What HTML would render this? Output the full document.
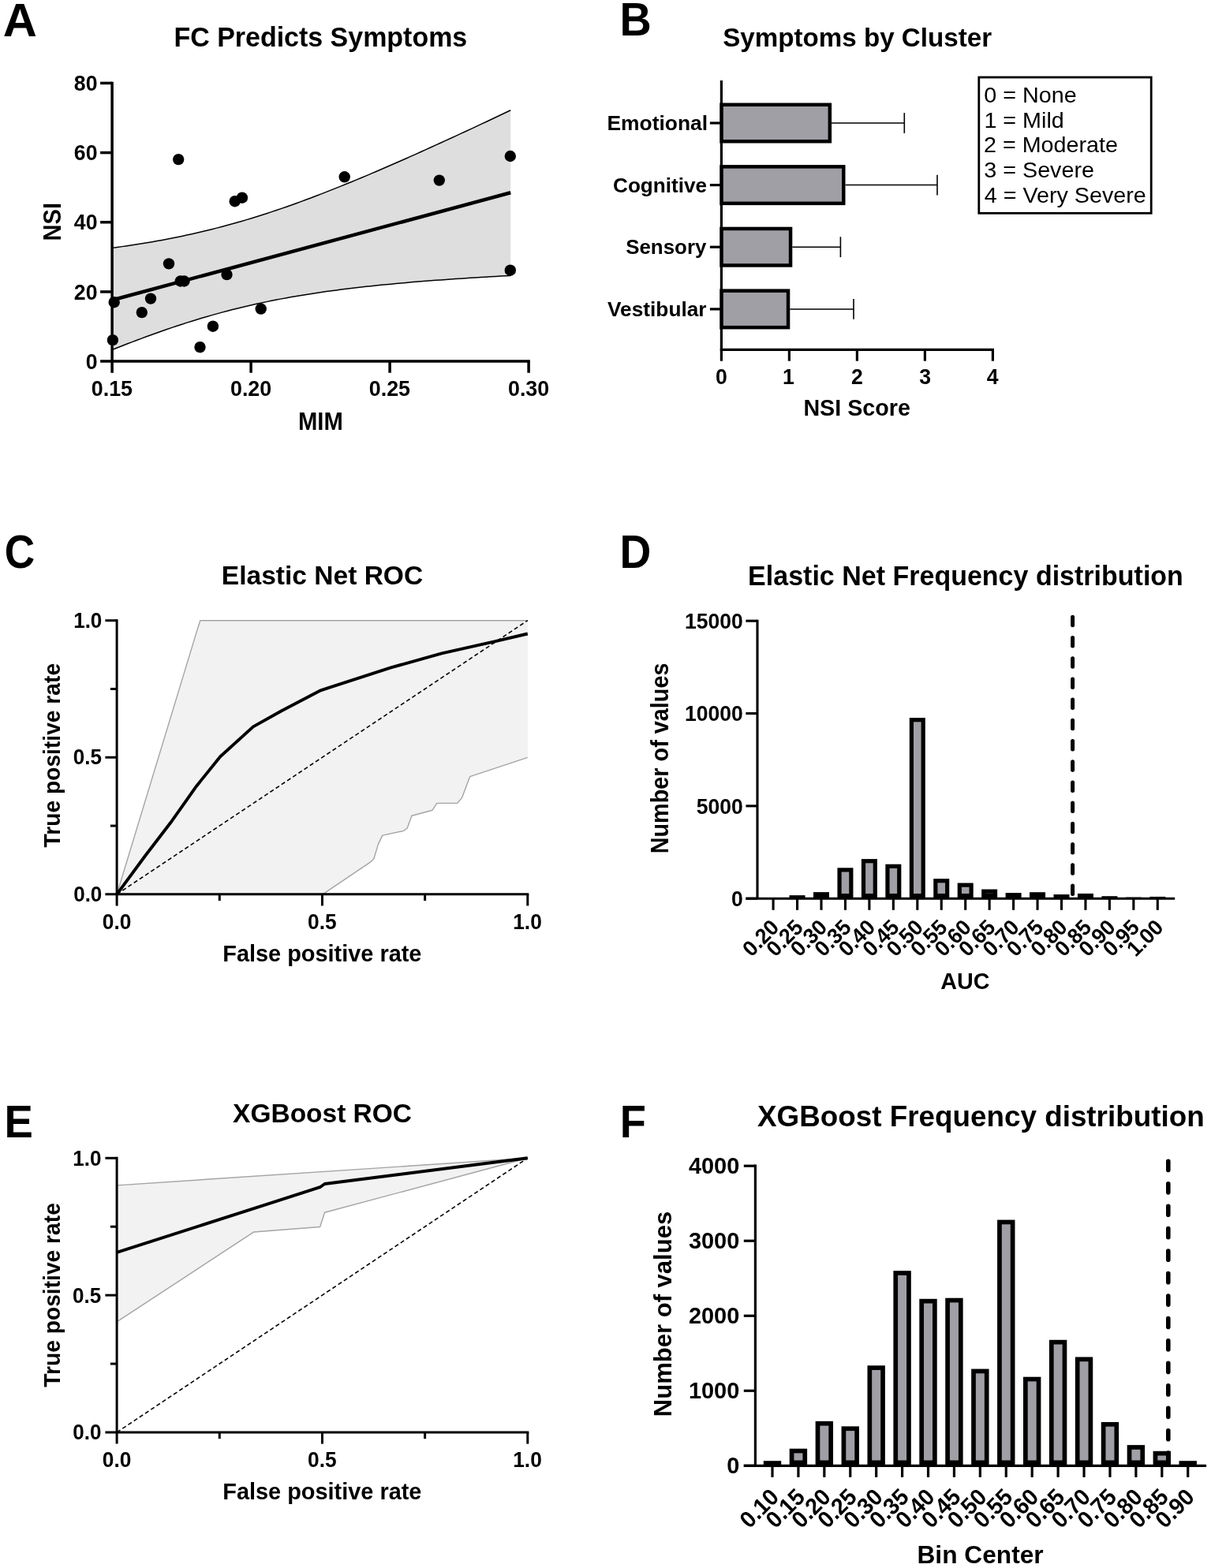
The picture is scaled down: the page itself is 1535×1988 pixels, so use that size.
<!DOCTYPE html>
<html><head><meta charset="utf-8"><title>Figure</title>
<style>
html,body{margin:0;padding:0;background:#fff;}
svg{display:block;}
text{font-family:"Liberation Sans", Arial, sans-serif;fill:#000;}
</style></head>
<body>
<svg width="1535" height="1988" viewBox="0 0 1535 1988">
<rect x="0" y="0" width="1535" height="1988" fill="#fff"/>
<text transform="translate(3.81,45.50) scale(1.0177,1)" font-size="58.72" font-weight="700">A</text>
<text transform="translate(785.47,45.30) scale(0.9527,1)" font-size="58.50" font-weight="700">B</text>
<text transform="translate(5.72,719.91) scale(0.9034,1)" font-size="58.90" font-weight="700">C</text>
<text transform="translate(785.51,719.80) scale(0.9437,1)" font-size="58.43" font-weight="700">D</text>
<text transform="translate(5.45,1441.90) scale(0.9429,1)" font-size="57.85" font-weight="700">E</text>
<text transform="translate(785.67,1441.90) scale(0.9376,1)" font-size="57.85" font-weight="700">F</text>
<text transform="translate(220.42,59.40) scale(0.9671,1)" font-size="35.14" font-weight="700">FC Predicts Symptoms</text>
<path d="M142.10,314.37 L148.41,313.51 L154.73,312.62 L161.04,311.71 L167.36,310.76 L173.67,309.78 L179.98,308.77 L186.30,307.73 L192.61,306.66 L198.93,305.54 L205.24,304.40 L211.55,303.21 L217.87,301.99 L224.18,300.73 L230.50,299.43 L236.81,298.08 L243.12,296.70 L249.44,295.27 L255.75,293.80 L262.07,292.29 L268.38,290.73 L274.69,289.13 L281.01,287.49 L287.32,285.80 L293.64,284.06 L299.95,282.29 L306.26,280.46 L312.58,278.60 L318.89,276.69 L325.21,274.74 L331.52,272.74 L337.83,270.71 L344.15,268.63 L350.46,266.51 L356.78,264.36 L363.09,262.17 L369.40,259.94 L375.72,257.67 L382.03,255.37 L388.35,253.04 L394.66,250.68 L400.97,248.28 L407.29,245.85 L413.60,243.40 L419.92,240.91 L426.23,238.40 L432.54,235.86 L438.86,233.30 L445.17,230.72 L451.49,228.11 L457.80,225.48 L464.11,222.83 L470.43,220.15 L476.74,217.46 L483.06,214.75 L489.37,212.02 L495.68,209.28 L502.00,206.52 L508.31,203.74 L514.63,200.95 L520.94,198.15 L527.25,195.33 L533.57,192.49 L539.88,189.65 L546.20,186.79 L552.51,183.92 L558.82,181.04 L565.14,178.15 L571.45,175.25 L577.77,172.34 L584.08,169.42 L590.39,166.49 L596.71,163.56 L603.02,160.61 L609.34,157.66 L615.65,154.70 L621.96,151.73 L628.28,148.75 L634.59,145.77 L640.91,142.78 L647.22,139.79 L647.22,349.42 L640.91,349.76 L634.59,350.11 L628.28,350.46 L621.96,350.83 L615.65,351.19 L609.34,351.57 L603.02,351.96 L596.71,352.35 L590.39,352.75 L584.08,353.16 L577.77,353.58 L571.45,354.02 L565.14,354.46 L558.82,354.91 L552.51,355.37 L546.20,355.85 L539.88,356.33 L533.57,356.83 L527.25,357.35 L520.94,357.87 L514.63,358.41 L508.31,358.97 L502.00,359.54 L495.68,360.13 L489.37,360.73 L483.06,361.36 L476.74,362.00 L470.43,362.66 L464.11,363.34 L457.80,364.04 L451.49,364.76 L445.17,365.50 L438.86,366.27 L432.54,367.07 L426.23,367.89 L419.92,368.73 L413.60,369.60 L407.29,370.50 L400.97,371.44 L394.66,372.40 L388.35,373.39 L382.03,374.42 L375.72,375.48 L369.40,376.58 L363.09,377.71 L356.78,378.88 L350.46,380.09 L344.15,381.33 L337.83,382.62 L331.52,383.95 L325.21,385.32 L318.89,386.74 L312.58,388.19 L306.26,389.70 L299.95,391.24 L293.64,392.83 L287.32,394.47 L281.01,396.15 L274.69,397.87 L268.38,399.64 L262.07,401.46 L255.75,403.32 L249.44,405.22 L243.12,407.17 L236.81,409.16 L230.50,411.19 L224.18,413.26 L217.87,415.38 L211.55,417.53 L205.24,419.72 L198.93,421.95 L192.61,424.22 L186.30,426.52 L179.98,428.86 L173.67,431.23 L167.36,433.64 L161.04,436.07 L154.73,438.54 L148.41,441.03 L142.10,443.55 Z" fill="#dedede" stroke="none" stroke-width="0" stroke-linejoin="round"/>
<path d="M142.10,314.37 L148.41,313.51 L154.73,312.62 L161.04,311.71 L167.36,310.76 L173.67,309.78 L179.98,308.77 L186.30,307.73 L192.61,306.66 L198.93,305.54 L205.24,304.40 L211.55,303.21 L217.87,301.99 L224.18,300.73 L230.50,299.43 L236.81,298.08 L243.12,296.70 L249.44,295.27 L255.75,293.80 L262.07,292.29 L268.38,290.73 L274.69,289.13 L281.01,287.49 L287.32,285.80 L293.64,284.06 L299.95,282.29 L306.26,280.46 L312.58,278.60 L318.89,276.69 L325.21,274.74 L331.52,272.74 L337.83,270.71 L344.15,268.63 L350.46,266.51 L356.78,264.36 L363.09,262.17 L369.40,259.94 L375.72,257.67 L382.03,255.37 L388.35,253.04 L394.66,250.68 L400.97,248.28 L407.29,245.85 L413.60,243.40 L419.92,240.91 L426.23,238.40 L432.54,235.86 L438.86,233.30 L445.17,230.72 L451.49,228.11 L457.80,225.48 L464.11,222.83 L470.43,220.15 L476.74,217.46 L483.06,214.75 L489.37,212.02 L495.68,209.28 L502.00,206.52 L508.31,203.74 L514.63,200.95 L520.94,198.15 L527.25,195.33 L533.57,192.49 L539.88,189.65 L546.20,186.79 L552.51,183.92 L558.82,181.04 L565.14,178.15 L571.45,175.25 L577.77,172.34 L584.08,169.42 L590.39,166.49 L596.71,163.56 L603.02,160.61 L609.34,157.66 L615.65,154.70 L621.96,151.73 L628.28,148.75 L634.59,145.77 L640.91,142.78 L647.22,139.79" fill="none" stroke="#000" stroke-width="1.5" stroke-linejoin="round"/>
<path d="M142.10,443.55 L148.41,441.03 L154.73,438.54 L161.04,436.07 L167.36,433.64 L173.67,431.23 L179.98,428.86 L186.30,426.52 L192.61,424.22 L198.93,421.95 L205.24,419.72 L211.55,417.53 L217.87,415.38 L224.18,413.26 L230.50,411.19 L236.81,409.16 L243.12,407.17 L249.44,405.22 L255.75,403.32 L262.07,401.46 L268.38,399.64 L274.69,397.87 L281.01,396.15 L287.32,394.47 L293.64,392.83 L299.95,391.24 L306.26,389.70 L312.58,388.19 L318.89,386.74 L325.21,385.32 L331.52,383.95 L337.83,382.62 L344.15,381.33 L350.46,380.09 L356.78,378.88 L363.09,377.71 L369.40,376.58 L375.72,375.48 L382.03,374.42 L388.35,373.39 L394.66,372.40 L400.97,371.44 L407.29,370.50 L413.60,369.60 L419.92,368.73 L426.23,367.89 L432.54,367.07 L438.86,366.27 L445.17,365.50 L451.49,364.76 L457.80,364.04 L464.11,363.34 L470.43,362.66 L476.74,362.00 L483.06,361.36 L489.37,360.73 L495.68,360.13 L502.00,359.54 L508.31,358.97 L514.63,358.41 L520.94,357.87 L527.25,357.35 L533.57,356.83 L539.88,356.33 L546.20,355.85 L552.51,355.37 L558.82,354.91 L565.14,354.46 L571.45,354.02 L577.77,353.58 L584.08,353.16 L590.39,352.75 L596.71,352.35 L603.02,351.96 L609.34,351.57 L615.65,351.19 L621.96,350.83 L628.28,350.46 L634.59,350.11 L640.91,349.76 L647.22,349.42" fill="none" stroke="#000" stroke-width="1.5" stroke-linejoin="round"/>
<line x1="142.10" y1="103.65" x2="142.10" y2="472.70" stroke="#000" stroke-width="3.5"/>
<line x1="127.10" y1="458.10" x2="671.85" y2="458.10" stroke="#000" stroke-width="3.5"/>
<line x1="127.10" y1="369.93" x2="142.10" y2="369.93" stroke="#000" stroke-width="3.5"/>
<line x1="127.10" y1="281.75" x2="142.10" y2="281.75" stroke="#000" stroke-width="3.5"/>
<line x1="127.10" y1="193.57" x2="142.10" y2="193.57" stroke="#000" stroke-width="3.5"/>
<line x1="127.10" y1="105.40" x2="142.10" y2="105.40" stroke="#000" stroke-width="3.5"/>
<line x1="318.10" y1="458.10" x2="318.10" y2="472.70" stroke="#000" stroke-width="3.5"/>
<line x1="494.10" y1="458.10" x2="494.10" y2="472.70" stroke="#000" stroke-width="3.5"/>
<line x1="670.10" y1="458.10" x2="670.10" y2="472.70" stroke="#000" stroke-width="3.5"/>
<text transform="translate(108.68,467.70) scale(0.9650,1)" font-size="27.60" font-weight="700">0</text>
<text transform="translate(93.87,379.53) scale(0.9650,1)" font-size="27.60" font-weight="700">20</text>
<text transform="translate(93.87,291.35) scale(0.9650,1)" font-size="27.60" font-weight="700">40</text>
<text transform="translate(93.87,203.17) scale(0.9650,1)" font-size="27.60" font-weight="700">60</text>
<text transform="translate(93.87,115.00) scale(0.9650,1)" font-size="27.60" font-weight="700">80</text>
<text transform="translate(115.81,502.10) scale(0.9800,1)" font-size="27.40" font-weight="700">0.15</text>
<text transform="translate(291.99,502.10) scale(0.9800,1)" font-size="27.40" font-weight="700">0.20</text>
<text transform="translate(467.81,502.10) scale(0.9800,1)" font-size="27.40" font-weight="700">0.25</text>
<text transform="translate(643.99,502.10) scale(0.9800,1)" font-size="27.40" font-weight="700">0.30</text>
<text transform="translate(377.94,545.00) scale(0.9428,1)" font-size="31.00" font-weight="700">MIM</text>
<text transform="translate(76.60,305.45) rotate(-90) scale(0.9400,1)" font-size="31.00" font-weight="700">NSI</text>
<line x1="142.10" y1="380.51" x2="647.22" y2="244.28" stroke="#000" stroke-width="4.5"/>
<circle cx="226.20" cy="202.10" r="7.2" fill="#000"/>
<circle cx="297.70" cy="255.20" r="7.2" fill="#000"/>
<circle cx="306.90" cy="250.70" r="7.2" fill="#000"/>
<circle cx="214.00" cy="334.40" r="7.2" fill="#000"/>
<circle cx="228.70" cy="356.50" r="7.2" fill="#000"/>
<circle cx="233.50" cy="356.50" r="7.2" fill="#000"/>
<circle cx="287.50" cy="348.10" r="7.2" fill="#000"/>
<circle cx="191.00" cy="378.60" r="7.2" fill="#000"/>
<circle cx="144.70" cy="383.20" r="7.2" fill="#000"/>
<circle cx="179.80" cy="396.10" r="7.2" fill="#000"/>
<circle cx="330.70" cy="391.60" r="7.2" fill="#000"/>
<circle cx="269.90" cy="413.70" r="7.2" fill="#000"/>
<circle cx="253.50" cy="440.10" r="7.2" fill="#000"/>
<circle cx="142.90" cy="431.10" r="7.2" fill="#000"/>
<circle cx="436.70" cy="224.30" r="7.2" fill="#000"/>
<circle cx="556.80" cy="228.60" r="7.2" fill="#000"/>
<circle cx="646.80" cy="198.00" r="7.2" fill="#000"/>
<circle cx="646.80" cy="342.70" r="7.2" fill="#000"/>
<text transform="translate(916.14,59.00) scale(0.9883,1)" font-size="33.57" font-weight="700">Symptoms by Cluster</text>
<line x1="914.40" y1="102.10" x2="914.40" y2="457.70" stroke="#000" stroke-width="3.2"/>
<line x1="912.80" y1="443.30" x2="1260.00" y2="443.30" stroke="#000" stroke-width="3.2"/>
<line x1="1000.40" y1="443.30" x2="1000.40" y2="457.70" stroke="#000" stroke-width="3.2"/>
<line x1="1086.40" y1="443.30" x2="1086.40" y2="457.70" stroke="#000" stroke-width="3.2"/>
<line x1="1172.40" y1="443.30" x2="1172.40" y2="457.70" stroke="#000" stroke-width="3.2"/>
<line x1="1258.40" y1="443.30" x2="1258.40" y2="457.70" stroke="#000" stroke-width="3.2"/>
<text transform="translate(907.00,486.90) scale(0.9700,1)" font-size="27.50" font-weight="700">0</text>
<text transform="translate(991.92,486.90) scale(0.9700,1)" font-size="27.50" font-weight="700">1</text>
<text transform="translate(1079.05,486.90) scale(0.9700,1)" font-size="27.50" font-weight="700">2</text>
<text transform="translate(1165.16,486.90) scale(0.9700,1)" font-size="27.50" font-weight="700">3</text>
<text transform="translate(1250.85,486.90) scale(0.9700,1)" font-size="27.50" font-weight="700">4</text>
<text transform="translate(1018.38,527.10) scale(0.9940,1)" font-size="28.86" font-weight="700">NSI Score</text>
<line x1="899.90" y1="156.00" x2="914.40" y2="156.00" stroke="#000" stroke-width="3.2"/>
<text transform="translate(769.48,165.00) scale(1.0400,1)" font-size="25.40" font-weight="700">Emotional</text>
<line x1="1054.10" y1="156.00" x2="1146.30" y2="156.00" stroke="#000" stroke-width="1.5"/>
<line x1="1146.30" y1="143.10" x2="1146.30" y2="168.90" stroke="#000" stroke-width="1.6"/>
<rect x="912.30" y="130.50" width="141.80" height="51.00" fill="#000"/>
<rect x="916.80" y="135.00" width="132.80" height="42.00" fill="#a09fa5"/>
<line x1="899.90" y1="234.60" x2="914.40" y2="234.60" stroke="#000" stroke-width="3.2"/>
<text transform="translate(777.00,243.60) scale(1.0300,1)" font-size="25.40" font-weight="700">Cognitive</text>
<line x1="1071.50" y1="234.60" x2="1188.00" y2="234.60" stroke="#000" stroke-width="1.5"/>
<line x1="1188.00" y1="221.70" x2="1188.00" y2="247.50" stroke="#000" stroke-width="1.6"/>
<rect x="912.30" y="209.10" width="159.20" height="51.00" fill="#000"/>
<rect x="916.80" y="213.60" width="150.20" height="42.00" fill="#a09fa5"/>
<line x1="899.90" y1="313.20" x2="914.40" y2="313.20" stroke="#000" stroke-width="3.2"/>
<text transform="translate(793.20,322.20) scale(1.0200,1)" font-size="25.40" font-weight="700">Sensory</text>
<line x1="1004.30" y1="313.20" x2="1065.40" y2="313.20" stroke="#000" stroke-width="1.5"/>
<line x1="1065.40" y1="300.30" x2="1065.40" y2="326.10" stroke="#000" stroke-width="1.6"/>
<rect x="912.30" y="287.70" width="92.00" height="51.00" fill="#000"/>
<rect x="916.80" y="292.20" width="83.00" height="42.00" fill="#a09fa5"/>
<line x1="899.90" y1="391.90" x2="914.40" y2="391.90" stroke="#000" stroke-width="3.2"/>
<text transform="translate(770.03,400.90) scale(1.0350,1)" font-size="25.40" font-weight="700">Vestibular</text>
<line x1="1001.30" y1="391.90" x2="1082.00" y2="391.90" stroke="#000" stroke-width="1.5"/>
<line x1="1082.00" y1="379.00" x2="1082.00" y2="404.80" stroke="#000" stroke-width="1.6"/>
<rect x="912.30" y="366.40" width="89.00" height="51.00" fill="#000"/>
<rect x="916.80" y="370.90" width="80.00" height="42.00" fill="#a09fa5"/>
<rect x="1240.8" y="98.0" width="218.4" height="172.3" fill="#fff" stroke="#000" stroke-width="2.8"/>
<text transform="translate(1247.28,129.90) scale(1.0150,1)" font-size="28.30" font-weight="400">0 = None</text>
<text transform="translate(1247.42,161.55) scale(1.0150,1)" font-size="28.30" font-weight="400">1 = Mild</text>
<text transform="translate(1246.96,193.20) scale(1.0150,1)" font-size="28.30" font-weight="400">2 = Moderate</text>
<text transform="translate(1247.31,224.85) scale(1.0150,1)" font-size="28.30" font-weight="400">3 = Severe</text>
<text transform="translate(1247.74,256.50) scale(1.0150,1)" font-size="28.30" font-weight="400">4 = Very Severe</text>
<text transform="translate(280.85,740.60) scale(0.9911,1)" font-size="33.86" font-weight="700">Elastic Net ROC</text>
<path d="M148.10,1133.80 L250.00,798.61 L253.80,786.70 L668.80,786.70 L668.80,960.39 L595.59,984.69 L585.70,1011.10 L579.71,1018.39 L553.78,1018.39 L548.10,1027.21 L521.91,1034.29 L516.18,1050.01 L511.60,1053.41 L484.78,1059.10 L479.42,1070.38 L473.90,1088.68 L469.32,1093.19 L408.97,1133.80 L148.10,1133.80 Z" fill="#f2f2f2" stroke="none" stroke-width="0" stroke-linejoin="round"/>
<path d="M148.10,1133.80 L250.00,798.61 L253.80,786.70 L668.80,786.70" fill="none" stroke="#a4a4a4" stroke-width="1.4" stroke-linejoin="round"/>
<path d="M148.10,1133.80 L408.97,1133.80 L469.32,1093.19 L473.90,1088.68 L479.42,1070.38 L484.78,1059.10 L511.60,1053.41 L516.18,1050.01 L521.91,1034.29 L548.10,1027.21 L553.78,1018.39 L579.71,1018.39 L585.70,1011.10 L595.59,984.69 L668.80,960.39" fill="none" stroke="#a4a4a4" stroke-width="1.4" stroke-linejoin="round"/>
<line x1="148.10" y1="1133.80" x2="668.80" y2="786.70" stroke="#000" stroke-width="1.6" stroke-dasharray="5.2,3.45"/>
<path d="M148.10,1133.80 L184.08,1085.00 L217.98,1040.71 L249.22,996.42 L279.21,959.31 L320.92,921.37 L356.90,901.31 L406.52,875.31 L413.92,872.82 L495.62,846.40 L559.97,828.28 L626.78,813.39 L668.80,803.50" fill="none" stroke="#000" stroke-width="3.9" stroke-linejoin="round"/>
<line x1="148.10" y1="785.20" x2="148.10" y2="1148.40" stroke="#000" stroke-width="3.0"/>
<line x1="133.40" y1="1133.80" x2="670.30" y2="1133.80" stroke="#000" stroke-width="3.0"/>
<line x1="133.40" y1="960.25" x2="148.10" y2="960.25" stroke="#000" stroke-width="3.0"/>
<line x1="408.45" y1="1133.80" x2="408.45" y2="1148.40" stroke="#000" stroke-width="3.0"/>
<line x1="133.40" y1="786.70" x2="148.10" y2="786.70" stroke="#000" stroke-width="3.0"/>
<line x1="668.80" y1="1133.80" x2="668.80" y2="1148.40" stroke="#000" stroke-width="3.0"/>
<line x1="139.90" y1="1047.03" x2="148.10" y2="1047.03" stroke="#000" stroke-width="3.0"/>
<line x1="278.27" y1="1133.80" x2="278.27" y2="1142.00" stroke="#000" stroke-width="3.0"/>
<line x1="139.90" y1="873.48" x2="148.10" y2="873.48" stroke="#000" stroke-width="3.0"/>
<line x1="538.62" y1="1133.80" x2="538.62" y2="1142.00" stroke="#000" stroke-width="3.0"/>
<text transform="translate(93.15,1143.00) scale(0.9650,1)" font-size="27.00" font-weight="700">0.0</text>
<text transform="translate(129.82,1177.50) scale(0.9750,1)" font-size="27.00" font-weight="700">0.0</text>
<text transform="translate(92.81,969.45) scale(0.9650,1)" font-size="27.00" font-weight="700">0.5</text>
<text transform="translate(390.00,1177.50) scale(0.9750,1)" font-size="27.00" font-weight="700">0.5</text>
<text transform="translate(93.15,795.90) scale(0.9650,1)" font-size="27.00" font-weight="700">1.0</text>
<text transform="translate(650.21,1177.50) scale(0.9750,1)" font-size="27.00" font-weight="700">1.0</text>
<text transform="translate(282.26,1219.20) scale(1.0070,1)" font-size="28.71" font-weight="700">False positive rate</text>
<text transform="translate(76.20,1074.39) rotate(-90) scale(0.9400,1)" font-size="30.00" font-weight="700">True positive rate</text>
<text transform="translate(295.10,1422.70) scale(1.0149,1)" font-size="33.00" font-weight="700">XGBoost ROC</text>
<path d="M148.10,1502.83 L668.80,1468.30 L668.80,1468.30 L411.57,1537.25 L405.64,1555.57 L321.86,1561.94 L148.10,1675.88 Z" fill="#f2f2f2" stroke="none" stroke-width="0" stroke-linejoin="round"/>
<path d="M148.10,1502.83 L668.80,1468.30" fill="none" stroke="#a4a4a4" stroke-width="1.4" stroke-linejoin="round"/>
<path d="M148.10,1675.88 L321.86,1561.94 L405.64,1555.57 L411.57,1537.25 L668.80,1468.30" fill="none" stroke="#a4a4a4" stroke-width="1.4" stroke-linejoin="round"/>
<line x1="148.10" y1="1816.00" x2="668.80" y2="1468.30" stroke="#000" stroke-width="1.6" stroke-dasharray="5.2,3.45"/>
<path d="M148.10,1587.91 L405.64,1505.23 L411.57,1500.98 L668.80,1468.30" fill="none" stroke="#000" stroke-width="3.9" stroke-linejoin="round"/>
<line x1="148.10" y1="1466.80" x2="148.10" y2="1830.60" stroke="#000" stroke-width="3.0"/>
<line x1="133.40" y1="1816.00" x2="670.30" y2="1816.00" stroke="#000" stroke-width="3.0"/>
<line x1="133.40" y1="1642.15" x2="148.10" y2="1642.15" stroke="#000" stroke-width="3.0"/>
<line x1="408.45" y1="1816.00" x2="408.45" y2="1830.60" stroke="#000" stroke-width="3.0"/>
<line x1="133.40" y1="1468.30" x2="148.10" y2="1468.30" stroke="#000" stroke-width="3.0"/>
<line x1="668.80" y1="1816.00" x2="668.80" y2="1830.60" stroke="#000" stroke-width="3.0"/>
<line x1="139.90" y1="1729.08" x2="148.10" y2="1729.08" stroke="#000" stroke-width="3.0"/>
<line x1="278.27" y1="1816.00" x2="278.27" y2="1824.20" stroke="#000" stroke-width="3.0"/>
<line x1="139.90" y1="1555.22" x2="148.10" y2="1555.22" stroke="#000" stroke-width="3.0"/>
<line x1="538.62" y1="1816.00" x2="538.62" y2="1824.20" stroke="#000" stroke-width="3.0"/>
<text transform="translate(92.35,1825.40) scale(0.9650,1)" font-size="27.00" font-weight="700">0.0</text>
<text transform="translate(129.82,1859.60) scale(0.9750,1)" font-size="27.00" font-weight="700">0.0</text>
<text transform="translate(92.01,1651.55) scale(0.9650,1)" font-size="27.00" font-weight="700">0.5</text>
<text transform="translate(390.00,1859.60) scale(0.9750,1)" font-size="27.00" font-weight="700">0.5</text>
<text transform="translate(92.35,1477.70) scale(0.9650,1)" font-size="27.00" font-weight="700">1.0</text>
<text transform="translate(650.21,1859.60) scale(0.9750,1)" font-size="27.00" font-weight="700">1.0</text>
<text transform="translate(282.26,1901.40) scale(1.0070,1)" font-size="28.71" font-weight="700">False positive rate</text>
<text transform="translate(76.20,1758.64) rotate(-90) scale(0.9400,1)" font-size="30.00" font-weight="700">True positive rate</text>
<text transform="translate(948.12,741.60) scale(0.9798,1)" font-size="34.71" font-weight="700">Elastic Net Frequency distribution</text>
<rect x="1000.55" y="1135.10" width="20.00" height="3.05" fill="#000"/>
<rect x="1031.00" y="1131.10" width="20.00" height="7.05" fill="#000"/>
<rect x="1061.45" y="1100.30" width="20.00" height="37.85" fill="#000"/>
<rect x="1066.65" y="1105.50" width="9.60" height="27.45" fill="#a09fa5"/>
<rect x="1091.90" y="1089.10" width="20.00" height="49.05" fill="#000"/>
<rect x="1097.10" y="1094.30" width="9.60" height="38.65" fill="#a09fa5"/>
<rect x="1122.35" y="1095.70" width="20.00" height="42.45" fill="#000"/>
<rect x="1127.55" y="1100.90" width="9.60" height="32.05" fill="#a09fa5"/>
<rect x="1152.80" y="910.10" width="20.00" height="228.05" fill="#000"/>
<rect x="1158.00" y="915.30" width="9.60" height="217.65" fill="#a09fa5"/>
<rect x="1183.25" y="1114.10" width="20.00" height="24.05" fill="#000"/>
<rect x="1188.45" y="1119.30" width="9.60" height="13.65" fill="#a09fa5"/>
<rect x="1213.70" y="1119.50" width="20.00" height="18.65" fill="#000"/>
<rect x="1218.90" y="1124.70" width="9.60" height="8.25" fill="#a09fa5"/>
<rect x="1244.15" y="1127.50" width="20.00" height="10.65" fill="#000"/>
<rect x="1249.35" y="1132.70" width="9.60" height="0.25" fill="#a09fa5"/>
<rect x="1274.60" y="1132.00" width="20.00" height="6.15" fill="#000"/>
<rect x="1305.05" y="1131.20" width="20.00" height="6.95" fill="#000"/>
<rect x="1335.50" y="1134.00" width="20.00" height="4.15" fill="#000"/>
<rect x="1365.95" y="1132.90" width="20.00" height="5.25" fill="#000"/>
<rect x="1396.40" y="1136.20" width="20.00" height="1.95" fill="#000"/>
<rect x="1426.85" y="1137.60" width="20.00" height="0.55" fill="#000"/>
<rect x="1457.30" y="1136.90" width="20.00" height="1.25" fill="#000"/>
<line x1="960.00" y1="785.65" x2="960.00" y2="1139.20" stroke="#000" stroke-width="3.1"/>
<line x1="945.40" y1="1139.20" x2="1489.20" y2="1139.20" stroke="#000" stroke-width="3.1"/>
<line x1="945.40" y1="1139.20" x2="960.00" y2="1139.20" stroke="#000" stroke-width="3.1"/>
<text transform="translate(926.93,1148.90) scale(0.9650,1)" font-size="27.50" font-weight="700">0</text>
<line x1="945.40" y1="1021.87" x2="960.00" y2="1021.87" stroke="#000" stroke-width="3.1"/>
<text transform="translate(882.67,1031.57) scale(0.9650,1)" font-size="27.50" font-weight="700">5000</text>
<line x1="945.40" y1="904.53" x2="960.00" y2="904.53" stroke="#000" stroke-width="3.1"/>
<text transform="translate(867.89,914.23) scale(0.9650,1)" font-size="27.50" font-weight="700">10000</text>
<line x1="945.40" y1="787.20" x2="960.00" y2="787.20" stroke="#000" stroke-width="3.1"/>
<text transform="translate(867.89,796.90) scale(0.9650,1)" font-size="27.50" font-weight="700">15000</text>
<line x1="980.10" y1="1139.20" x2="980.10" y2="1153.80" stroke="#000" stroke-width="3.1"/>
<text transform="translate(989.10,1177.50) rotate(-45) scale(0.97,1)" font-size="27.5" font-weight="700" text-anchor="end">0.20</text>
<line x1="1010.55" y1="1139.20" x2="1010.55" y2="1153.80" stroke="#000" stroke-width="3.1"/>
<text transform="translate(1019.55,1177.50) rotate(-45) scale(0.97,1)" font-size="27.5" font-weight="700" text-anchor="end">0.25</text>
<line x1="1041.00" y1="1139.20" x2="1041.00" y2="1153.80" stroke="#000" stroke-width="3.1"/>
<text transform="translate(1050.00,1177.50) rotate(-45) scale(0.97,1)" font-size="27.5" font-weight="700" text-anchor="end">0.30</text>
<line x1="1071.45" y1="1139.20" x2="1071.45" y2="1153.80" stroke="#000" stroke-width="3.1"/>
<text transform="translate(1080.45,1177.50) rotate(-45) scale(0.97,1)" font-size="27.5" font-weight="700" text-anchor="end">0.35</text>
<line x1="1101.90" y1="1139.20" x2="1101.90" y2="1153.80" stroke="#000" stroke-width="3.1"/>
<text transform="translate(1110.90,1177.50) rotate(-45) scale(0.97,1)" font-size="27.5" font-weight="700" text-anchor="end">0.40</text>
<line x1="1132.35" y1="1139.20" x2="1132.35" y2="1153.80" stroke="#000" stroke-width="3.1"/>
<text transform="translate(1141.35,1177.50) rotate(-45) scale(0.97,1)" font-size="27.5" font-weight="700" text-anchor="end">0.45</text>
<line x1="1162.80" y1="1139.20" x2="1162.80" y2="1153.80" stroke="#000" stroke-width="3.1"/>
<text transform="translate(1171.80,1177.50) rotate(-45) scale(0.97,1)" font-size="27.5" font-weight="700" text-anchor="end">0.50</text>
<line x1="1193.25" y1="1139.20" x2="1193.25" y2="1153.80" stroke="#000" stroke-width="3.1"/>
<text transform="translate(1202.25,1177.50) rotate(-45) scale(0.97,1)" font-size="27.5" font-weight="700" text-anchor="end">0.55</text>
<line x1="1223.70" y1="1139.20" x2="1223.70" y2="1153.80" stroke="#000" stroke-width="3.1"/>
<text transform="translate(1232.70,1177.50) rotate(-45) scale(0.97,1)" font-size="27.5" font-weight="700" text-anchor="end">0.60</text>
<line x1="1254.15" y1="1139.20" x2="1254.15" y2="1153.80" stroke="#000" stroke-width="3.1"/>
<text transform="translate(1263.15,1177.50) rotate(-45) scale(0.97,1)" font-size="27.5" font-weight="700" text-anchor="end">0.65</text>
<line x1="1284.60" y1="1139.20" x2="1284.60" y2="1153.80" stroke="#000" stroke-width="3.1"/>
<text transform="translate(1293.60,1177.50) rotate(-45) scale(0.97,1)" font-size="27.5" font-weight="700" text-anchor="end">0.70</text>
<line x1="1315.05" y1="1139.20" x2="1315.05" y2="1153.80" stroke="#000" stroke-width="3.1"/>
<text transform="translate(1324.05,1177.50) rotate(-45) scale(0.97,1)" font-size="27.5" font-weight="700" text-anchor="end">0.75</text>
<line x1="1345.50" y1="1139.20" x2="1345.50" y2="1153.80" stroke="#000" stroke-width="3.1"/>
<text transform="translate(1354.50,1177.50) rotate(-45) scale(0.97,1)" font-size="27.5" font-weight="700" text-anchor="end">0.80</text>
<line x1="1375.95" y1="1139.20" x2="1375.95" y2="1153.80" stroke="#000" stroke-width="3.1"/>
<text transform="translate(1384.95,1177.50) rotate(-45) scale(0.97,1)" font-size="27.5" font-weight="700" text-anchor="end">0.85</text>
<line x1="1406.40" y1="1139.20" x2="1406.40" y2="1153.80" stroke="#000" stroke-width="3.1"/>
<text transform="translate(1415.40,1177.50) rotate(-45) scale(0.97,1)" font-size="27.5" font-weight="700" text-anchor="end">0.90</text>
<line x1="1436.85" y1="1139.20" x2="1436.85" y2="1153.80" stroke="#000" stroke-width="3.1"/>
<text transform="translate(1445.85,1177.50) rotate(-45) scale(0.97,1)" font-size="27.5" font-weight="700" text-anchor="end">0.95</text>
<line x1="1467.30" y1="1139.20" x2="1467.30" y2="1153.80" stroke="#000" stroke-width="3.1"/>
<text transform="translate(1476.30,1177.50) rotate(-45) scale(0.97,1)" font-size="27.5" font-weight="700" text-anchor="end">1.00</text>
<line x1="1359.60" y1="782.30" x2="1359.60" y2="1136.65" stroke="#000" stroke-width="5.0" stroke-dasharray="10.5,15.7" stroke-linecap="round"/>
<text transform="translate(1192.28,1253.80) scale(0.9617,1)" font-size="29.86" font-weight="700">AUC</text>
<text transform="translate(847.00,1082.33) rotate(-90) scale(0.9300,1)" font-size="31.00" font-weight="700">Number of values</text>
<text transform="translate(959.97,1428.10) scale(0.9954,1)" font-size="37.00" font-weight="700">XGBoost Frequency distribution</text>
<rect x="967.80" y="1852.20" width="22.40" height="5.00" fill="#000"/>
<rect x="1000.72" y="1836.70" width="22.40" height="20.50" fill="#000"/>
<rect x="1006.42" y="1842.40" width="11.00" height="9.10" fill="#a09fa5"/>
<rect x="1033.64" y="1801.90" width="22.40" height="55.30" fill="#000"/>
<rect x="1039.34" y="1807.60" width="11.00" height="43.90" fill="#a09fa5"/>
<rect x="1066.56" y="1808.40" width="22.40" height="48.80" fill="#000"/>
<rect x="1072.26" y="1814.10" width="11.00" height="37.40" fill="#a09fa5"/>
<rect x="1099.48" y="1731.30" width="22.40" height="125.90" fill="#000"/>
<rect x="1105.18" y="1737.00" width="11.00" height="114.50" fill="#a09fa5"/>
<rect x="1132.40" y="1611.20" width="22.40" height="246.00" fill="#000"/>
<rect x="1138.10" y="1616.90" width="11.00" height="234.60" fill="#a09fa5"/>
<rect x="1165.32" y="1646.80" width="22.40" height="210.40" fill="#000"/>
<rect x="1171.02" y="1652.50" width="11.00" height="199.00" fill="#a09fa5"/>
<rect x="1198.24" y="1645.70" width="22.40" height="211.50" fill="#000"/>
<rect x="1203.94" y="1651.40" width="11.00" height="200.10" fill="#a09fa5"/>
<rect x="1231.16" y="1735.60" width="22.40" height="121.60" fill="#000"/>
<rect x="1236.86" y="1741.30" width="11.00" height="110.20" fill="#a09fa5"/>
<rect x="1264.08" y="1546.60" width="22.40" height="310.60" fill="#000"/>
<rect x="1269.78" y="1552.30" width="11.00" height="299.20" fill="#a09fa5"/>
<rect x="1297.00" y="1745.70" width="22.40" height="111.50" fill="#000"/>
<rect x="1302.70" y="1751.40" width="11.00" height="100.10" fill="#a09fa5"/>
<rect x="1329.92" y="1698.80" width="22.40" height="158.40" fill="#000"/>
<rect x="1335.62" y="1704.50" width="11.00" height="147.00" fill="#a09fa5"/>
<rect x="1362.84" y="1720.50" width="22.40" height="136.70" fill="#000"/>
<rect x="1368.54" y="1726.20" width="11.00" height="125.30" fill="#a09fa5"/>
<rect x="1395.76" y="1803.00" width="22.40" height="54.20" fill="#000"/>
<rect x="1401.46" y="1808.70" width="11.00" height="42.80" fill="#a09fa5"/>
<rect x="1428.68" y="1832.10" width="22.40" height="25.10" fill="#000"/>
<rect x="1434.38" y="1837.80" width="11.00" height="13.70" fill="#a09fa5"/>
<rect x="1461.60" y="1839.80" width="22.40" height="17.40" fill="#000"/>
<rect x="1467.30" y="1845.50" width="11.00" height="6.00" fill="#a09fa5"/>
<rect x="1494.52" y="1852.20" width="22.40" height="5.00" fill="#000"/>
<line x1="957.40" y1="1476.60" x2="957.40" y2="1858.30" stroke="#000" stroke-width="3.2"/>
<line x1="942.80" y1="1858.30" x2="1529.10" y2="1858.30" stroke="#000" stroke-width="3.2"/>
<line x1="942.80" y1="1858.30" x2="957.40" y2="1858.30" stroke="#000" stroke-width="3.2"/>
<text transform="translate(921.19,1868.40) scale(0.9650,1)" font-size="30.00" font-weight="700">0</text>
<line x1="942.80" y1="1763.28" x2="957.40" y2="1763.28" stroke="#000" stroke-width="3.2"/>
<text transform="translate(872.90,1773.38) scale(0.9650,1)" font-size="30.00" font-weight="700">1000</text>
<line x1="942.80" y1="1668.25" x2="957.40" y2="1668.25" stroke="#000" stroke-width="3.2"/>
<text transform="translate(872.90,1678.35) scale(0.9650,1)" font-size="30.00" font-weight="700">2000</text>
<line x1="942.80" y1="1573.22" x2="957.40" y2="1573.22" stroke="#000" stroke-width="3.2"/>
<text transform="translate(872.90,1583.32) scale(0.9650,1)" font-size="30.00" font-weight="700">3000</text>
<line x1="942.80" y1="1478.20" x2="957.40" y2="1478.20" stroke="#000" stroke-width="3.2"/>
<text transform="translate(872.90,1488.30) scale(0.9650,1)" font-size="30.00" font-weight="700">4000</text>
<line x1="979.00" y1="1858.30" x2="979.00" y2="1872.90" stroke="#000" stroke-width="3.2"/>
<text transform="translate(989.00,1899.70) rotate(-45) scale(0.97,1)" font-size="29.4" font-weight="700" text-anchor="end">0.10</text>
<line x1="1011.92" y1="1858.30" x2="1011.92" y2="1872.90" stroke="#000" stroke-width="3.2"/>
<text transform="translate(1021.92,1899.70) rotate(-45) scale(0.97,1)" font-size="29.4" font-weight="700" text-anchor="end">0.15</text>
<line x1="1044.84" y1="1858.30" x2="1044.84" y2="1872.90" stroke="#000" stroke-width="3.2"/>
<text transform="translate(1054.84,1899.70) rotate(-45) scale(0.97,1)" font-size="29.4" font-weight="700" text-anchor="end">0.20</text>
<line x1="1077.76" y1="1858.30" x2="1077.76" y2="1872.90" stroke="#000" stroke-width="3.2"/>
<text transform="translate(1087.76,1899.70) rotate(-45) scale(0.97,1)" font-size="29.4" font-weight="700" text-anchor="end">0.25</text>
<line x1="1110.68" y1="1858.30" x2="1110.68" y2="1872.90" stroke="#000" stroke-width="3.2"/>
<text transform="translate(1120.68,1899.70) rotate(-45) scale(0.97,1)" font-size="29.4" font-weight="700" text-anchor="end">0.30</text>
<line x1="1143.60" y1="1858.30" x2="1143.60" y2="1872.90" stroke="#000" stroke-width="3.2"/>
<text transform="translate(1153.60,1899.70) rotate(-45) scale(0.97,1)" font-size="29.4" font-weight="700" text-anchor="end">0.35</text>
<line x1="1176.52" y1="1858.30" x2="1176.52" y2="1872.90" stroke="#000" stroke-width="3.2"/>
<text transform="translate(1186.52,1899.70) rotate(-45) scale(0.97,1)" font-size="29.4" font-weight="700" text-anchor="end">0.40</text>
<line x1="1209.44" y1="1858.30" x2="1209.44" y2="1872.90" stroke="#000" stroke-width="3.2"/>
<text transform="translate(1219.44,1899.70) rotate(-45) scale(0.97,1)" font-size="29.4" font-weight="700" text-anchor="end">0.45</text>
<line x1="1242.36" y1="1858.30" x2="1242.36" y2="1872.90" stroke="#000" stroke-width="3.2"/>
<text transform="translate(1252.36,1899.70) rotate(-45) scale(0.97,1)" font-size="29.4" font-weight="700" text-anchor="end">0.50</text>
<line x1="1275.28" y1="1858.30" x2="1275.28" y2="1872.90" stroke="#000" stroke-width="3.2"/>
<text transform="translate(1285.28,1899.70) rotate(-45) scale(0.97,1)" font-size="29.4" font-weight="700" text-anchor="end">0.55</text>
<line x1="1308.20" y1="1858.30" x2="1308.20" y2="1872.90" stroke="#000" stroke-width="3.2"/>
<text transform="translate(1318.20,1899.70) rotate(-45) scale(0.97,1)" font-size="29.4" font-weight="700" text-anchor="end">0.60</text>
<line x1="1341.12" y1="1858.30" x2="1341.12" y2="1872.90" stroke="#000" stroke-width="3.2"/>
<text transform="translate(1351.12,1899.70) rotate(-45) scale(0.97,1)" font-size="29.4" font-weight="700" text-anchor="end">0.65</text>
<line x1="1374.04" y1="1858.30" x2="1374.04" y2="1872.90" stroke="#000" stroke-width="3.2"/>
<text transform="translate(1384.04,1899.70) rotate(-45) scale(0.97,1)" font-size="29.4" font-weight="700" text-anchor="end">0.70</text>
<line x1="1406.96" y1="1858.30" x2="1406.96" y2="1872.90" stroke="#000" stroke-width="3.2"/>
<text transform="translate(1416.96,1899.70) rotate(-45) scale(0.97,1)" font-size="29.4" font-weight="700" text-anchor="end">0.75</text>
<line x1="1439.88" y1="1858.30" x2="1439.88" y2="1872.90" stroke="#000" stroke-width="3.2"/>
<text transform="translate(1449.88,1899.70) rotate(-45) scale(0.97,1)" font-size="29.4" font-weight="700" text-anchor="end">0.80</text>
<line x1="1472.80" y1="1858.30" x2="1472.80" y2="1872.90" stroke="#000" stroke-width="3.2"/>
<text transform="translate(1482.80,1899.70) rotate(-45) scale(0.97,1)" font-size="29.4" font-weight="700" text-anchor="end">0.85</text>
<line x1="1505.72" y1="1858.30" x2="1505.72" y2="1872.90" stroke="#000" stroke-width="3.2"/>
<text transform="translate(1515.72,1899.70) rotate(-45) scale(0.97,1)" font-size="29.4" font-weight="700" text-anchor="end">0.90</text>
<line x1="1480.80" y1="1472.30" x2="1480.80" y2="1855.70" stroke="#000" stroke-width="5.6" stroke-dasharray="11.1,17.35" stroke-linecap="round"/>
<text transform="translate(1162.48,1982.20) scale(0.9864,1)" font-size="32.14" font-weight="700">Bin Center</text>
<text transform="translate(850.70,1796.18) rotate(-90) scale(0.9700,1)" font-size="32.00" font-weight="700">Number of values</text>
</svg>
</body></html>
